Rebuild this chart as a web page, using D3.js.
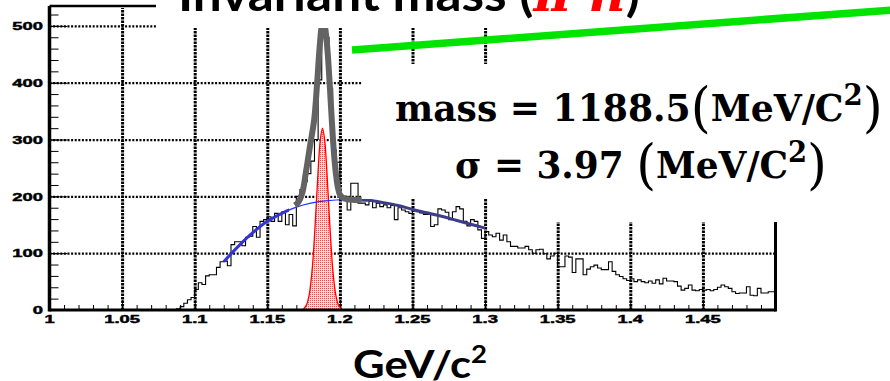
<!DOCTYPE html>
<html>
<head>
<meta charset="utf-8">
<script src="https://cdn.jsdelivr.net/npm/d3@7"></script>
<style>
  body { margin: 0; background: #fff; }
  svg { display: block; }
</style>
</head>
<body>
<div id="chart"></div>
<script>
const W = 890, H = 381;

// axis ticks
const xTicks = [1, 1.05, 1.1, 1.15, 1.2, 1.25, 1.3, 1.35, 1.4, 1.45];
const xTickLabels = ["1", "1.05", "1.1", "1.15", "1.2", "1.25", "1.3", "1.35", "1.4", "1.45"];
const yTicks = [0, 100, 200, 300, 400, 500];

// histogram: bins of 0.0025 starting at 1.0875 (everything below is empty)
const histStart = 1.0875, binWidth = 0.0025;
const counts = [
  2, 6, 12, 18, 22, 36, 48, 45, 60, 62,
  62, 75, 85, 86, 78, 115, 120, 120, 113, 128,
  130, 147, 128, 156, 159, 164, 156, 170, 156, 173,
  150, 168, 148, 200, 212, 226, 240, 262, 300, 405,
  498, 480, 390, 282, 260, 196, 200, 176, 223, 223,
  188, 188, 185, 192, 180, 188, 182, 185, 180, 184,
  159, 180, 176, 173, 170, 176, 173, 171, 168, 168,
  147, 150, 178, 176, 172, 159, 173, 182, 178, 156,
  148, 159, 156, 141, 126, 138, 132, 129, 135, 123,
  132, 120, 112, 112, 109, 109, 112, 106, 100, 106,
  107, 99, 90, 95, 100, 76, 76, 95, 93, 66,
  90, 90, 62, 72, 76, 79, 74, 71, 71, 85,
  68, 62, 59, 55, 52, 55, 50, 53, 50, 48,
  51, 47, 53, 46, 56, 51, 51, 50, 42, 35,
  38, 44, 35, 34, 36, 35, 36, 34, 36, 40,
  44, 41, 38, 32, 29, 30, 30, 41, 26, 25,
  38, 30, 30, 32, 32
];

// background fit (blue)
const bkgX = [1.12, 1.13, 1.14, 1.15, 1.16, 1.17, 1.18, 1.19, 1.20, 1.21, 1.22, 1.23, 1.24, 1.25, 1.26, 1.27, 1.28, 1.29, 1.30];
const bkgY = [85, 112, 136, 156, 170, 181, 188, 192, 194, 194, 193, 189, 184, 177, 171, 165, 158, 151, 144];

// signal gaussian (red)
const sigX = [1.175, 1.177, 1.179, 1.181, 1.183, 1.185, 1.1865, 1.188, 1.1895, 1.191, 1.193, 1.195, 1.197, 1.199, 1.201];
const sigY = [2, 9, 29, 74, 152, 245, 299, 320, 299, 245, 152, 74, 29, 9, 2];

// total fit (grey)
const totX = [1.169, 1.1715, 1.174, 1.1765, 1.1795, 1.1823, 1.1842, 1.1858, 1.1872, 1.1882, 1.1893, 1.1907, 1.1918, 1.1931, 1.1944, 1.1958, 1.1972, 1.1986, 1.2002, 1.203, 1.208, 1.215];
const totY = [184, 190, 205, 241, 290, 335, 395, 455, 495, 512, 505, 478, 445, 392, 335, 280, 241, 216, 202, 196, 194, 194];

const x = d3.scaleLinear().domain([1, 1.5]).range([49.5, 775.5]);
const y = d3.scaleLinear().domain([0, 535]).range([310, 6]);

const svg = d3.select("#chart").append("svg")
  .attr("width", W).attr("height", H);
svg.append("rect").attr("width", W).attr("height", H).attr("fill", "#fff");

const defs = svg.append("defs");
const pat = defs.append("pattern").attr("id", "dots")
  .attr("width", 2).attr("height", 2).attr("patternUnits", "userSpaceOnUse");
pat.append("rect").attr("width", 2).attr("height", 2).attr("fill", "#fdd");
pat.append("rect").attr("width", 1).attr("height", 1).attr("fill", "#f44");

defs.append("clipPath").attr("id", "leftThick").append("rect")
  .attr("x", x(1.11)).attr("y", 0).attr("width", x(1.165) - x(1.11)).attr("height", H);
defs.append("clipPath").attr("id", "rightThick").append("rect")
  .attr("x", x(1.215)).attr("y", 0).attr("width", x(1.31) - x(1.215)).attr("height", H);

// grid
svg.append("g")
  .attr("transform", "translate(0," + y(0) + ")")
  .call(d3.axisBottom(x).tickValues(xTicks.slice(1)).tickSize(-(y(0) - 8)).tickFormat(""))
  .call(g => g.select(".domain").remove())
  .selectAll("line")
    .attr("stroke", "#000").attr("stroke-width", 3).attr("stroke-dasharray", "2.5,1");

svg.append("g")
  .attr("transform", "translate(" + x(1) + ",0)")
  .call(d3.axisLeft(y).tickValues(yTicks.slice(1)).tickSize(-(x(1.5) - x(1))).tickFormat(""))
  .call(g => g.select(".domain").remove())
  .selectAll("line")
    .attr("stroke", "#000").attr("stroke-width", 2.2).attr("stroke-dasharray", "2,1.6");

// ticks
const tickStyle = g => {
  g.select(".domain").remove();
  g.selectAll("line").attr("stroke", "#000").attr("stroke-width", 1);
};
svg.append("g").attr("transform", "translate(0," + y(0) + ")")
  .call(d3.axisBottom(x).tickValues(d3.range(1, 50).map(i => 1 + i * 0.01)).tickSize(-5).tickFormat(""))
  .call(tickStyle);
svg.append("g").attr("transform", "translate(0," + y(0) + ")")
  .call(d3.axisBottom(x).tickValues(xTicks).tickSize(-10).tickFormat(""))
  .call(tickStyle);
svg.append("g").attr("transform", "translate(" + x(1) + ",0)")
  .call(d3.axisLeft(y).tickValues(d3.range(1, 27).map(i => i * 20)).tickSize(-9).tickFormat(""))
  .call(tickStyle);
svg.append("g").attr("transform", "translate(" + x(1) + ",0)")
  .call(d3.axisLeft(y).tickValues(yTicks).tickSize(-18).tickFormat(""))
  .call(tickStyle);

// histogram
const histPts = [[1, 0]];
counts.forEach((c, i) => histPts.push([histStart + i * binWidth, c]));
histPts.push([1.5, counts[counts.length - 1]]);
svg.append("path")
  .datum(histPts)
  .attr("d", d3.line().x(d => x(d[0])).y(d => y(d[1])).curve(d3.curveStepAfter))
  .attr("fill", "none").attr("stroke", "#000").attr("stroke-width", 1.1);

// signal
const sig = sigX.map((v, i) => [v, sigY[i]]);
svg.append("path").datum(sig)
  .attr("d", d3.area().x(d => x(d[0])).y0(y(0)).y1(d => y(d[1])).curve(d3.curveCatmullRom))
  .attr("fill", "url(#dots)");
svg.append("path").datum(sig)
  .attr("d", d3.line().x(d => x(d[0])).y(d => y(d[1])).curve(d3.curveCatmullRom))
  .attr("fill", "none").attr("stroke", "#f00").attr("stroke-width", 1.3);

// background
const bkg = bkgX.map((v, i) => [v, bkgY[i]]);
const bkgLine = d3.line().x(d => x(d[0])).y(d => y(d[1])).curve(d3.curveCatmullRom);
svg.append("path").datum(bkg).attr("d", bkgLine)
  .attr("fill", "none").attr("stroke", "#2b2bff").attr("stroke-width", 1.2);
svg.append("path").datum(bkg).attr("d", bkgLine).attr("clip-path", "url(#leftThick)")
  .attr("fill", "none").attr("stroke", "#3434d0").attr("stroke-width", 3);
svg.append("path").datum(bkg).attr("d", bkgLine).attr("clip-path", "url(#rightThick)")
  .attr("fill", "none").attr("stroke", "#3c3c88").attr("stroke-width", 3);

// total fit
svg.append("path").datum(totX.map((v, i) => [v, totY[i]]))
  .attr("d", d3.line().x(d => x(d[0])).y(d => y(d[1])).curve(d3.curveCatmullRom))
  .attr("fill", "none").attr("stroke", "#636363").attr("stroke-width", 6)
  .attr("stroke-linejoin", "round");

// frame
const frame = svg.append("g").attr("stroke", "#000");
frame.append("line").attr("x1", x(1)).attr("x2", x(1.5)).attr("y1", y(0)).attr("y2", y(0)).attr("stroke-width", 3);
frame.append("line").attr("x1", x(1)).attr("x2", x(1)).attr("y1", y(535)).attr("y2", y(0) + 1.5).attr("stroke-width", 3.5);
frame.append("line").attr("x1", x(1)).attr("x2", x(1.5)).attr("y1", y(535)).attr("y2", y(535)).attr("stroke-width", 2.5);
frame.append("line").attr("x1", x(1.5)).attr("x2", x(1.5)).attr("y1", y(535)).attr("y2", y(0) + 1.5).attr("stroke-width", 3);

// white boxes of the slide overlays
svg.append("rect").attr("x", 156).attr("y", 0).attr("width", W - 156).attr("height", 28).attr("fill", "#fff");
svg.append("rect").attr("x", 362).attr("y", 64).attr("width", W - 362).attr("height", 135).attr("fill", "#fff");
svg.append("rect").attr("x", 488).attr("y", 28).attr("width", W - 488).attr("height", 194).attr("fill", "#fff");

// green marker line
svg.append("line").attr("x1", 352).attr("y1", 50).attr("x2", 892).attr("y2", 10)
  .attr("stroke", "#00e400").attr("stroke-width", 7.5);

// tick labels
const labelFont = g => g
  .attr("font-family", "'Liberation Sans', Arial, sans-serif")
  .attr("font-weight", "bold").attr("font-size", 11.5)
  .attr("stroke", "#000").attr("stroke-width", 0.45);
svg.append("g").call(labelFont).selectAll("text").data(xTicks).join("text")
  .attr("transform", d => "translate(" + x(d) + ",322.5) scale(1.6,1)")
  .attr("text-anchor", "middle")
  .text((d, i) => xTickLabels[i]);
svg.append("g").call(labelFont).selectAll("text").data(yTicks).join("text")
  .attr("transform", d => "translate(43," + (y(d) + 4.2) + ") scale(1.6,1)")
  .attr("text-anchor", "end")
  .text(d => d);

function fitWidth(t, x0, x1, base) {
  const b = t.node().getBBox();
  const s = (x1 - x0) / b.width;
  t.attr("transform", "translate(" + (x0 - b.x * s) + "," + base + ") scale(" + s + ",1)");
}

// title (cut by the top edge, as on the slide)
const title = svg.append("text")
  .attr("font-family", "Lato, 'Open Sans', sans-serif")
  .attr("font-weight", "bold").attr("font-size", 48).attr("fill", "#000");
title.append("tspan").text("Invariant mass (");
title.append("tspan").attr("fill", "#f00").attr("font-style", "italic").attr("font-family", "'DejaVu Serif', serif").text("π");
title.append("tspan").attr("fill", "#f00").attr("font-size", 28).attr("y", -20).text("+");
title.append("tspan").attr("fill", "#f00").attr("font-style", "italic").attr("font-family", "'DejaVu Serif', serif").attr("y", 0).text("n");
title.append("tspan").text(")");
fitWidth(title, 178, 640, 11);

// fit results
function mathLine(parts, x0, x1, base) {
  const t = svg.append("text")
    .attr("font-family", "'DejaVu Serif', 'Liberation Serif', serif")
    .attr("font-weight", "bold").attr("font-size", 38).attr("fill", "#000");
  t.append("tspan").attr("y", 0).text(parts);
  t.append("tspan").attr("y", 5).attr("font-size", 54).attr("font-weight", "normal").text("(");
  t.append("tspan").attr("y", 0).text("MeV/C");
  t.append("tspan").attr("y", -16).attr("font-size", 29).text("2");
  t.append("tspan").attr("y", 5).attr("font-size", 54).attr("font-weight", "normal").text(")");
  fitWidth(t, x0, x1, base);
}
mathLine("mass = 1188.5", 395, 883, 121);
mathLine("σ = 3.97 ", 455, 827, 178);

// x axis title
const xt = svg.append("text")
  .attr("font-family", "Lato, 'Open Sans', sans-serif")
  .attr("font-weight", "bold").attr("font-size", 38).attr("fill", "#000");
xt.append("tspan").attr("y", 0).text("GeV/c");
xt.append("tspan").attr("y", -15).attr("font-size", 24).text("2");
fitWidth(xt, 353, 487, 378);
</script>
</body>
</html>
